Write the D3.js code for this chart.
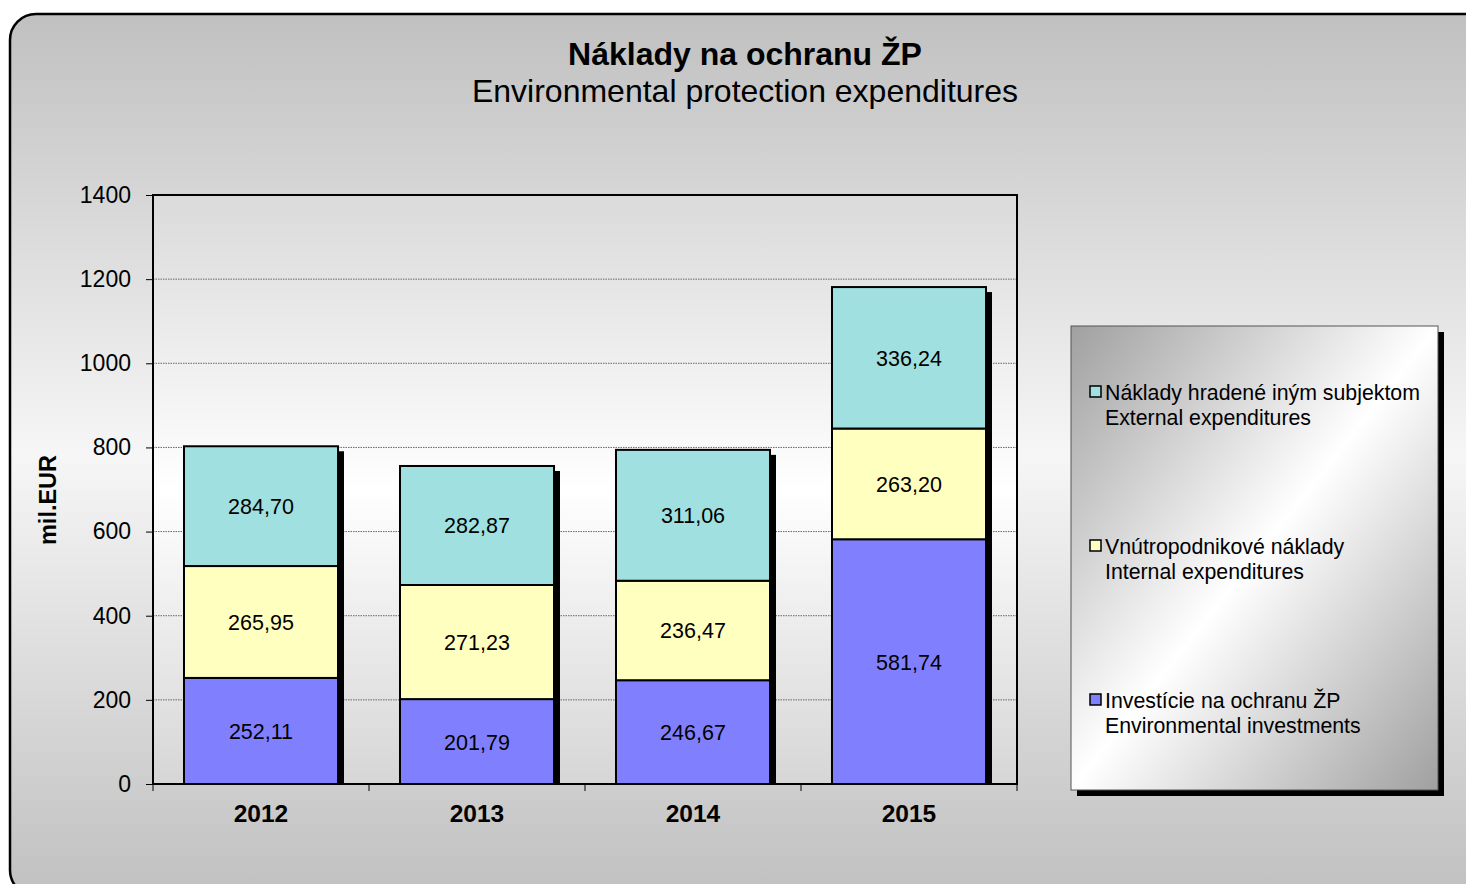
<!DOCTYPE html>
<html>
<head>
<meta charset="utf-8">
<script src="https://cdn.jsdelivr.net/npm/d3@7"></script>
<style>
  body { margin: 0; background: #fff; }
  svg { display: block; font-family: "Liberation Sans", Arial, sans-serif; }
  .tick text { font-size: 23px; fill: #000; }
</style>
</head>
<body>
<div id="chart"></div>
<script>
const width = 1466, height = 884
const margin = {left: 153, right: 449, top: 195, bottom: 100}

// data
const years = ["2012", "2013", "2014", "2015"]
const investments = [252.11, 201.79, 246.67, 581.74]
const internal = [265.95, 271.23, 236.47, 263.20]
const external = [284.70, 282.87, 311.06, 336.24]
const seriesKeys = ["inv", "int", "ext"]
const seriesColors = ["#8080ff", "#ffffc0", "#a0e0e0"]
const legendLines = [
    ["Náklady hradené iným subjektom", "External expenditures"],
    ["Vnútropodnikové náklady", "Internal expenditures"],
    ["Investície na ochranu ŽP", "Environmental investments"]
]
const legendColors = ["#a0e0e0", "#ffffc0", "#8080ff"]
const yTicks = [0, 200, 400, 600, 800, 1000, 1200, 1400]

var rows = years.map(function(y, i) {
    return {year: y, inv: investments[i], int: internal[i], ext: external[i]}
})
var stack = d3.stack().keys(seriesKeys)(rows)

var svg = d3.select("#chart").append("svg")
    .attr("width", width)
    .attr("height", height)

var defs = svg.append("defs")
var bgGrad = defs.append("linearGradient").attr("id", "bgGrad")
    .attr("x1", 0).attr("y1", 0).attr("x2", 0).attr("y2", 1)
bgGrad.append("stop").attr("offset", "0%").attr("stop-color", "#c0c0c0")
bgGrad.append("stop").attr("offset", "50%").attr("stop-color", "#f6f6f6")
bgGrad.append("stop").attr("offset", "100%").attr("stop-color", "#c0c0c0")

var plotGrad = defs.append("linearGradient").attr("id", "plotGrad")
    .attr("x1", 0).attr("y1", 0).attr("x2", 0).attr("y2", 1)
plotGrad.append("stop").attr("offset", "0%").attr("stop-color", "#dadada")
plotGrad.append("stop").attr("offset", "50%").attr("stop-color", "#ffffff")
plotGrad.append("stop").attr("offset", "100%").attr("stop-color", "#d6d6d6")

var legGrad = defs.append("linearGradient").attr("id", "legGrad")
    .attr("x1", 0).attr("y1", 0).attr("x2", 1).attr("y2", 1)
legGrad.append("stop").attr("offset", "0%").attr("stop-color", "#a0a0a0")
legGrad.append("stop").attr("offset", "50%").attr("stop-color", "#ffffff")
legGrad.append("stop").attr("offset", "100%").attr("stop-color", "#a0a0a0")

defs.append("clipPath").attr("id", "clipPlot")
    .append("rect")
    .attr("x", margin.left).attr("y", 0)
    .attr("width", width - margin.left - margin.right)
    .attr("height", height - margin.bottom)

// chart background
svg.append("rect")
    .attr("x", 10).attr("y", 14)
    .attr("width", 1480).attr("height", 882)
    .attr("rx", 26)
    .attr("fill", "url(#bgGrad)")
    .attr("stroke", "#000")
    .attr("stroke-width", 2.5)

// title
svg.append("text")
    .attr("x", 745).attr("y", 65)
    .attr("text-anchor", "middle")
    .style("font-size", "32px").style("font-weight", "bold")
    .text("Náklady na ochranu ŽP")
svg.append("text")
    .attr("x", 745).attr("y", 102)
    .attr("text-anchor", "middle")
    .style("font-size", "32px")
    .text("Environmental protection expenditures")

var xScale = d3.scaleBand()
    .domain(years)
    .range([margin.left, width - margin.right])
var yScale = d3.scaleLinear()
    .domain([0, 1400])
    .range([height - margin.bottom, margin.top])

var plotW = width - margin.left - margin.right
var plotH = height - margin.top - margin.bottom
var barW = xScale.bandwidth() * 0.713

svg.append("rect")
    .attr("x", margin.left).attr("y", margin.top)
    .attr("width", plotW).attr("height", plotH)
    .attr("fill", "url(#plotGrad)")

// gridlines
svg.append("g")
    .selectAll("line")
    .data(yTicks.filter(function(d) { return d > 0 && d < 1400 }))
    .enter().append("line")
    .attr("x1", margin.left).attr("x2", margin.left + plotW)
    .attr("y1", function(d) { return yScale(d) })
    .attr("y2", function(d) { return yScale(d) })
    .attr("stroke", "#666")
    .attr("stroke-width", 1)
    .attr("stroke-dasharray", "1.5,1")

// bar shadows
var plot_g = svg.append("g").attr("clip-path", "url(#clipPlot)")
plot_g.selectAll(".shadow")
    .data(rows)
    .enter().append("rect")
    .attr("class", "shadow")
    .attr("x", function(d) { return xScale(d.year) + (xScale.bandwidth() - barW) / 2 + 6 })
    .attr("y", function(d) { return yScale(d.inv + d.int + d.ext) + 5 })
    .attr("width", barW)
    .attr("height", function(d) { return yScale(0) - yScale(d.inv + d.int + d.ext) })
    .attr("fill", "#000")

// bar segments
var layers = svg.append("g").selectAll("g")
    .data(stack)
    .enter().append("g")
    .attr("fill", function(d, i) { return seriesColors[i] })
layers.selectAll("rect")
    .data(function(d) { return d })
    .enter().append("rect")
    .attr("x", function(d) { return xScale(d.data.year) + (xScale.bandwidth() - barW) / 2 })
    .attr("y", function(d) { return yScale(d[1]) })
    .attr("width", barW)
    .attr("height", function(d) { return yScale(d[0]) - yScale(d[1]) })
    .attr("stroke", "#000")
    .attr("stroke-width", 2)

// value labels
var fmt = function(v) { return v.toFixed(2).replace(".", ",") }
layers.selectAll("text")
    .data(function(d) { return d })
    .enter().append("text")
    .attr("x", function(d) { return xScale(d.data.year) + xScale.bandwidth() / 2 })
    .attr("y", function(d) { return (yScale(d[0]) + yScale(d[1])) / 2 + 8 })
    .attr("text-anchor", "middle")
    .attr("fill", "#000")
    .style("font-size", "21.5px")
    .text(function(d) { return fmt(d[1] - d[0]) })

// plot frame
svg.append("rect")
    .attr("x", margin.left).attr("y", margin.top)
    .attr("width", plotW).attr("height", plotH)
    .attr("fill", "none")
    .attr("stroke", "#000")
    .attr("stroke-width", 2)

// y axis
var yAxis = d3.axisLeft(yScale).tickValues(yTicks).tickFormat(d3.format("d"))
    .tickSize(7).tickPadding(15)
var y_g = svg.append("g")
    .attr("transform", "translate(" + margin.left + ",0)")
    .call(yAxis)
y_g.select(".domain").remove()
y_g.selectAll(".tick line").attr("stroke", "#000")

// x axis
var x_g = svg.append("g")
    .attr("transform", "translate(0," + (height - margin.bottom) + ")")
x_g.selectAll("line")
    .data(d3.range(years.length + 1))
    .enter().append("line")
    .attr("x1", function(i) { return margin.left + i * xScale.step() })
    .attr("x2", function(i) { return margin.left + i * xScale.step() })
    .attr("y1", 0).attr("y2", 7)
    .attr("stroke", "#000")
x_g.selectAll("text")
    .data(years)
    .enter().append("text")
    .attr("x", function(d) { return xScale(d) + xScale.bandwidth() / 2 })
    .attr("y", 38)
    .attr("text-anchor", "middle")
    .style("font-size", "24.5px").style("font-weight", "bold")
    .text(function(d) { return d })

// y label
svg.append("text")
    .attr("transform", "translate(" + 56 + "," + 500 + ")rotate(-90)")
    .attr("text-anchor", "middle")
    .style("font-size", "23.5px").style("font-weight", "bold")
    .text("mil.EUR")

// legend
var lg = {x: 1071, y: 326, w: 367, h: 464}
svg.append("rect")
    .attr("x", lg.x + 6).attr("y", lg.y + 6)
    .attr("width", lg.w).attr("height", lg.h)
    .attr("fill", "#000")
svg.append("rect")
    .attr("x", lg.x).attr("y", lg.y)
    .attr("width", lg.w).attr("height", lg.h)
    .attr("fill", "url(#legGrad)")
    .attr("stroke", "#555")
    .attr("stroke-width", 1)

var legItemY = [392, 546, 700]
var items = svg.append("g").selectAll("g")
    .data(legendLines)
    .enter().append("g")
    .attr("transform", function(d, i) { return "translate(" + 1090 + "," + legItemY[i] + ")" })
items.append("rect")
    .attr("x", 0).attr("y", -6)
    .attr("width", 11).attr("height", 11)
    .attr("fill", function(d, i) { return legendColors[i] })
    .attr("stroke", "#000")
    .attr("stroke-width", 1.5)
items.append("text")
    .attr("x", 15).attr("y", 7.5)
    .style("font-size", "21.3px")
    .text(function(d) { return d[0] })
items.append("text")
    .attr("x", 15).attr("y", 32.5)
    .style("font-size", "21.3px")
    .text(function(d) { return d[1] })
</script>
</body>
</html>
